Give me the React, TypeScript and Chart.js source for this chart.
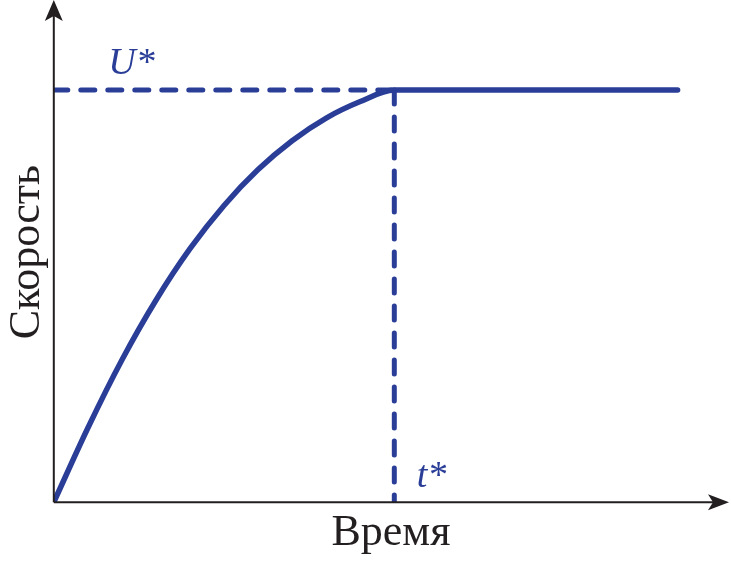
import React, { useEffect, useRef } from "react";
import { Chart, registerables } from "chart.js";

Chart.register(...registerables);

// Data (time in arbitrary units, speed relative to U*)
const timeValues = [0, 0.5, 1, 1.5, 2, 2.5, 3, 3.5, 4, 4.5, 5, 9.16];
const speedValues = [0, 0.18, 0.345, 0.49, 0.615, 0.72, 0.807, 0.877, 0.932, 0.972, 1.0, 1.0];
const tStar = 5;
const uStar = 1;
const xTitle = "Время";
const yTitle = "Скорость";
const uLabel = "U*";
const tLabel = "t*";

const BLUE = "#2a3e98";
const AXIS = "#231f20";
const SERIF = '"Liberation Serif", "Times New Roman", "DejaVu Serif", serif';

const decorPlugin = {
  id: "decor",
  afterDraw(chart: any) {
    const { ctx, chartArea, scales } = chart;
    const x0 = chartArea.left;
    const y0 = chartArea.bottom;
    const top = 0;
    const right = chart.width - 2;
    ctx.save();
    ctx.strokeStyle = AXIS;
    ctx.fillStyle = AXIS;
    ctx.lineWidth = 2;
    ctx.beginPath();
    ctx.moveTo(x0, y0);
    ctx.lineTo(x0, top + 10);
    ctx.moveTo(x0, y0);
    ctx.lineTo(right - 10, y0);
    ctx.stroke();
    ctx.beginPath();
    ctx.moveTo(x0, top);
    ctx.lineTo(x0 + 9, top + 21);
    ctx.lineTo(x0, top + 16);
    ctx.lineTo(x0 - 9, top + 21);
    ctx.closePath();
    ctx.fill();
    ctx.beginPath();
    ctx.moveTo(right, y0);
    ctx.lineTo(right - 21, y0 - 8);
    ctx.lineTo(right - 16, y0);
    ctx.lineTo(right - 21, y0 + 8);
    ctx.closePath();
    ctx.fill();
    ctx.fillStyle = BLUE;
    ctx.font = "italic 38px " + SERIF;
    ctx.textBaseline = "alphabetic";
    ctx.textAlign = "left";
    ctx.fillText(uLabel, scales.x.getPixelForValue(0.8), scales.y.getPixelForValue(1.04));
    ctx.fillText(tLabel, scales.x.getPixelForValue(5.33), scales.y.getPixelForValue(0.036));
    ctx.restore();
  },
};

export default function App() {
  const ref = useRef<HTMLCanvasElement | null>(null);
  useEffect(() => {
    let chart: any = null;
    let cancelled = false;
    const build = () => {
      if (cancelled || !ref.current) return;
      chart = new Chart(ref.current, {
        type: "line",
        data: {
          datasets: [
            {
              data: [
                { x: 0, y: uStar },
                { x: tStar, y: uStar },
              ],
              borderColor: BLUE,
              borderWidth: 5,
              borderDash: [14, 13],
              borderCapStyle: "round",
              pointRadius: 0,
              fill: false,
            },
            {
              data: [
                { x: tStar, y: uStar },
                { x: tStar, y: 0 },
              ],
              borderColor: BLUE,
              borderWidth: 5,
              borderDash: [14, 13],
              borderCapStyle: "round",
              pointRadius: 0,
              fill: false,
            },
            {
              data: timeValues.map((t, i) => ({ x: t, y: speedValues[i] })),
              borderColor: BLUE,
              borderWidth: 5.5,
              borderCapStyle: "round",
              cubicInterpolationMode: "monotone",
              pointRadius: 0,
              fill: false,
            },
          ],
        },
        options: {
          animation: false,
          responsive: true,
          maintainAspectRatio: false,
          layout: { padding: { left: 1, right: 3, top: 2, bottom: 1 } },
          plugins: { legend: { display: false }, tooltip: { enabled: false } },
          scales: {
            x: {
              type: "linear",
              min: 0,
              max: 9.9,
              grid: { display: false, drawTicks: false },
              border: { display: false },
              ticks: { display: false },
              title: {
                display: true,
                text: xTitle,
                color: AXIS,
                font: { family: SERIF, size: 44 },
                padding: { top: 5, bottom: 0 },
              },
            },
            y: {
              type: "linear",
              min: 0,
              max: 1.2136,
              grid: { display: false, drawTicks: false },
              border: { display: false },
              ticks: { display: false },
              title: {
                display: true,
                text: yTitle,
                color: AXIS,
                font: { family: SERIF, size: 44 },
                padding: { top: 0, bottom: 0 },
              },
            },
          },
        },
        plugins: [decorPlugin],
      } as any);
    };
    const fontsApi = (document as any).fonts;
    if (fontsApi && fontsApi.load) {
      Promise.all([
        fontsApi.load('44px "Liberation Serif"'),
        fontsApi.load('italic 38px "Liberation Serif"'),
      ])
        .catch(() => null)
        .then(build);
    } else {
      build();
    }
    return () => {
      cancelled = true;
      if (chart) chart.destroy();
    };
  }, []);
  return (
    <div style={{ position: "fixed", left: 0, top: 0, width: 731, height: 561, background: "#fff" }}>
      <canvas ref={ref} />
    </div>
  );
}
